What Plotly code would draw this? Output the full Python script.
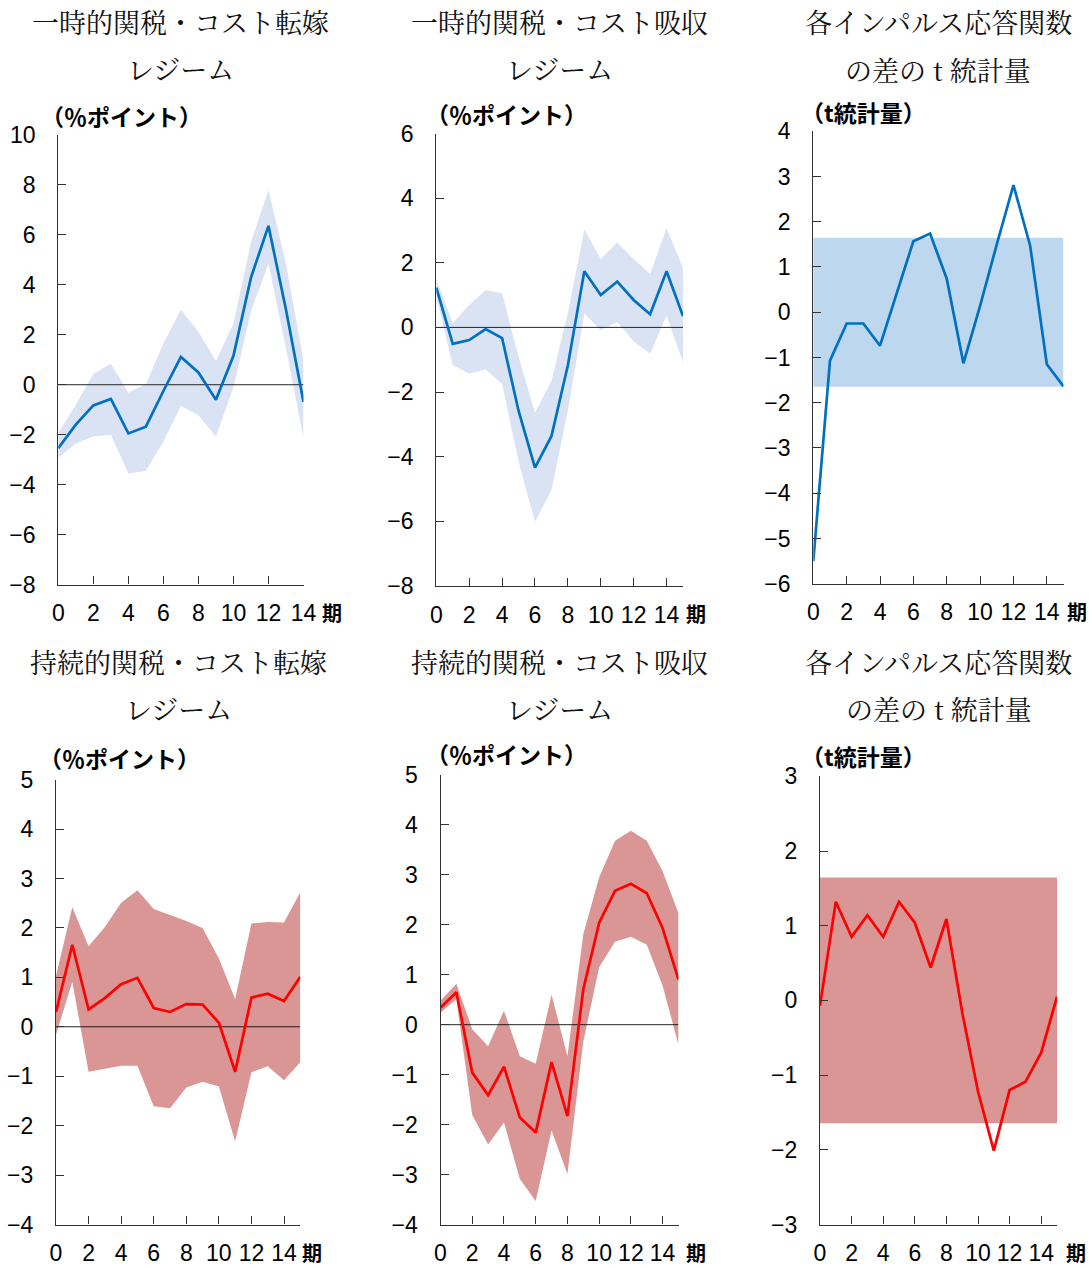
import plotly.graph_objects as go

W, H = 1089, 1268

# ---------------- data ----------------
periods14 = list(range(0, 15))
periods15 = list(range(0, 16))

# Panel 1: 一時的関税・コスト転嫁レジーム
p1_mid = [-2.54, -1.6, -0.83, -0.57, -1.95, -1.68, -0.25, 1.11, 0.49, -0.6, 1.16, 4.29, 6.36, 3.0, -0.69]
p1_up = [-1.93, -0.8, 0.43, 0.84, -0.32, 0.03, 1.65, 3.0, 2.12, 0.95, 2.44, 5.7, 7.8, 4.83, 0.97]
p1_lo = [-2.92, -2.35, -2.07, -2.0, -3.56, -3.45, -2.27, -0.85, -1.22, -2.07, -0.11, 2.94, 4.84, 1.45, -2.14]

# Panel 2: 一時的関税・コスト吸収レジーム
p2_mid = [1.23, -0.51, -0.39, -0.05, -0.33, -2.58, -4.34, -3.37, -1.17, 1.74, 1.0, 1.42, 0.85, 0.41, 1.74, 0.35]
p2_up = [1.5, 0.14, 0.69, 1.16, 1.06, -0.91, -2.64, -1.66, 0.45, 3.03, 2.12, 2.63, 2.12, 1.65, 3.07, 1.84]
p2_lo = [0.97, -1.17, -1.43, -1.3, -1.75, -4.15, -6.02, -5.04, -2.58, 0.43, -0.09, 0.17, -0.44, -0.81, 0.37, -1.07]

# Panel 3: t統計量（一時的）
p3_t = [-5.5, -1.07, -0.25, -0.25, -0.74, 0.4, 1.57, 1.74, 0.74, -1.13, 0.14, 1.5, 2.81, 1.47, -1.15, -1.64]

# Panel 4: 持続的関税・コスト転嫁レジーム
p4_mid = [0.3, 1.66, 0.35, 0.58, 0.86, 0.99, 0.38, 0.3, 0.46, 0.45, 0.08, -0.91, 0.59, 0.67, 0.52, 1.01]
p4_up = [1.03, 2.42, 1.63, 2.02, 2.51, 2.76, 2.38, 2.26, 2.14, 2.0, 1.38, 0.56, 2.09, 2.12, 2.11, 2.72]
p4_lo = [-0.16, 0.91, -0.91, -0.85, -0.79, -0.79, -1.61, -1.65, -1.23, -1.11, -1.21, -2.32, -0.92, -0.8, -1.08, -0.72]

# Panel 5: 持続的関税・コスト吸収レジーム
p5_mid = [0.34, 0.65, -0.96, -1.41, -0.84, -1.86, -2.16, -0.75, -1.83, 0.71, 2.04, 2.68, 2.82, 2.63, 1.93, 0.9]
p5_up = [0.48, 0.82, -0.09, -0.43, 0.28, -0.63, -0.78, 0.6, -0.63, 1.81, 2.95, 3.68, 3.88, 3.68, 3.07, 2.23]
p5_lo = [0.24, 0.51, -1.81, -2.4, -1.96, -3.09, -3.53, -2.12, -2.99, -0.34, 1.15, 1.66, 1.76, 1.6, 0.78, -0.4]

# Panel 6: t統計量（持続的）
p6_t = [-0.07, 1.32, 0.85, 1.14, 0.85, 1.32, 1.04, 0.44, 1.09, -0.16, -1.22, -2.01, -1.2, -1.09, -0.7, 0.05]

CRIT = 1.645  # 両側10%有意水準の臨界値

title_l1 = ["一時的関税・コスト転嫁", "一時的関税・コスト吸収", "各インパルス応答関数",
            "持続的関税・コスト転嫁", "持続的関税・コスト吸収", "各インパルス応答関数"]
title_l2 = ["レジーム", "レジーム", "の差の t 統計量",
            "レジーム", "レジーム", "の差の t 統計量"]
units = ["（％ポイント）", "（％ポイント）", "（t統計量）",
         "（％ポイント）", "（％ポイント）", "（t統計量）"]
yranges = [(-8, 10), (-8, 6), (-6, 4), (-4, 5), (-4, 5), (-3, 3)]
ydticks = [2, 2, 1, 1, 1, 1]
xticks = [0, 2, 4, 6, 8, 10, 12, 14]
xmaxes = [14, 15, 15, 15, 15, 15]

# ---------------- style / layout (pixels) ----------------
BLUE = "#0070C0"
BLUE_BAND = "#DAE3F3"
BLUE_T = "#BDD7EE"
RED = "#FF0000"
RED_BAND = "#D99694"
SANS = "Noto Sans CJK JP, Liberation Sans, sans-serif"
SERIF = "Noto Serif CJK JP, Noto Sans CJK JP, serif"
TICKFONT = dict(family="Liberation Sans, Noto Sans CJK JP, sans-serif", size=23, color="black")

# plot-area boxes: (x0, x1, ytop, ybottom)
boxes = [
    (58.3, 303.5, 135.0, 584.5),
    (436.3, 683.0, 133.6, 585.8),
    (813.3, 1063.5, 131.2, 583.7),
    (56.0, 300.3, 779.6, 1224.5),
    (440.5, 678.5, 774.9, 1224.5),
    (820.0, 1057.0, 776.3, 1224.5),
]
title_y = [(21, 68), (21, 68), (21, 69), (661, 708), (661, 708), (661, 708)]
unit_pos = [(38.5, 116), (423.5, 114), (798.5, 112), (36.5, 758), (423.5, 754), (799.0, 756)]
qi_dx = [16, 1, 1, 0, 5, 7]

fig = go.Figure()

def axnames(i):
    s = "" if i == 0 else str(i + 1)
    return "x" + s, "y" + s, "xaxis" + s, "yaxis" + s

def add_irf(i, x, mid, up, lo, line_c, band_c):
    xa, ya, _, _ = axnames(i)
    fig.add_trace(go.Scatter(x=x, y=lo, mode="lines", line=dict(width=0, color=band_c),
                             hoverinfo="skip", showlegend=False, xaxis=xa, yaxis=ya))
    fig.add_trace(go.Scatter(x=x, y=up, mode="lines", line=dict(width=0, color=band_c),
                             fill="tonexty", fillcolor=band_c,
                             hoverinfo="skip", showlegend=False, xaxis=xa, yaxis=ya))
    fig.add_trace(go.Scatter(x=[x[0], x[-1]], y=[0, 0], mode="lines",
                             line=dict(width=1, color="rgba(0,0,0,0.85)"),
                             hoverinfo="skip", showlegend=False, xaxis=xa, yaxis=ya))
    fig.add_trace(go.Scatter(x=x, y=mid, mode="lines", line=dict(width=2.7, color=line_c),
                             showlegend=False, xaxis=xa, yaxis=ya))

def add_t(i, x, t, line_c, band_c):
    xa, ya, _, _ = axnames(i)
    fig.add_trace(go.Scatter(x=[x[0], x[-1]], y=[-CRIT, -CRIT], mode="lines",
                             line=dict(width=0, color=band_c), hoverinfo="skip",
                             showlegend=False, xaxis=xa, yaxis=ya))
    fig.add_trace(go.Scatter(x=[x[0], x[-1]], y=[CRIT, CRIT], mode="lines",
                             line=dict(width=0, color=band_c), fill="tonexty", fillcolor=band_c,
                             hoverinfo="skip", showlegend=False, xaxis=xa, yaxis=ya))
    fig.add_trace(go.Scatter(x=x, y=t, mode="lines", line=dict(width=2.7, color=line_c),
                             showlegend=False, xaxis=xa, yaxis=ya))

add_irf(0, periods14, p1_mid, p1_up, p1_lo, BLUE, BLUE_BAND)
add_irf(1, periods15, p2_mid, p2_up, p2_lo, BLUE, BLUE_BAND)
add_t(2, periods15, p3_t, BLUE, BLUE_T)
add_irf(3, periods15, p4_mid, p4_up, p4_lo, RED, RED_BAND)
add_irf(4, periods15, p5_mid, p5_up, p5_lo, RED, RED_BAND)
add_t(5, periods15, p6_t, RED, RED_BAND)

layout = dict(width=W, height=H, margin=dict(l=0, r=0, t=0, b=0, pad=0), autosize=False,
              paper_bgcolor="white", plot_bgcolor="rgba(0,0,0,0)", showlegend=False)
annotations = []

def px(x):
    return x / W

def py(y):
    return 1 - y / H

for i, (x0, x1, yt, yb) in enumerate(boxes):
    xa, ya, xk, yk = axnames(i)
    layout[xk] = dict(domain=[px(x0), px(x1)], range=[0, xmaxes[i]], anchor=ya,
                      tickmode="array", tickvals=xticks, ticks="inside", ticklen=8,
                      tickcolor="#333", tickwidth=1, showline=True, linecolor="#333",
                      linewidth=1.2, showgrid=False, zeroline=False, automargin=False,
                      tickfont=TICKFONT, ticklabelstandoff=8, fixedrange=True)
    lo, hi = yranges[i]
    layout[yk] = dict(domain=[py(yb), py(yt)], range=[lo, hi], anchor=xa,
                      tick0=lo, dtick=ydticks[i], ticks="inside", ticklen=8,
                      tickcolor="#333", tickwidth=1, showline=True, linecolor="#333",
                      linewidth=1.2, showgrid=False, zeroline=False, automargin=False,
                      tickfont=TICKFONT, ticklabelstandoff=17, fixedrange=True)
    cx = (x0 + x1) / 2
    annotations.append(dict(text=title_l1[i], x=px(cx), y=py(title_y[i][0]),
                            xref="paper", yref="paper", xanchor="center", yanchor="middle",
                            showarrow=False, font=dict(family=SERIF, size=27, color="#111")))
    annotations.append(dict(text=title_l2[i], x=px(cx), y=py(title_y[i][1]),
                            xref="paper", yref="paper", xanchor="center", yanchor="middle",
                            showarrow=False, font=dict(family=SERIF, size=27, color="#111")))
    ux, uy = unit_pos[i]
    annotations.append(dict(text="<b>" + units[i] + "</b>", x=px(ux), y=py(uy),
                            xref="paper", yref="paper", xanchor="left", yanchor="middle",
                            showarrow=False, font=dict(family=SANS, size=23, color="black")))
    annotations.append(dict(text="<b>期</b>", x=px(x1 + qi_dx[i]), y=py(yb + 28),
                            xref="paper", yref="paper", xanchor="left", yanchor="middle",
                            showarrow=False, font=dict(family=SANS, size=20, color="black")))

layout["annotations"] = annotations
fig.update_layout(**layout)
fig.write_html("out.html")
